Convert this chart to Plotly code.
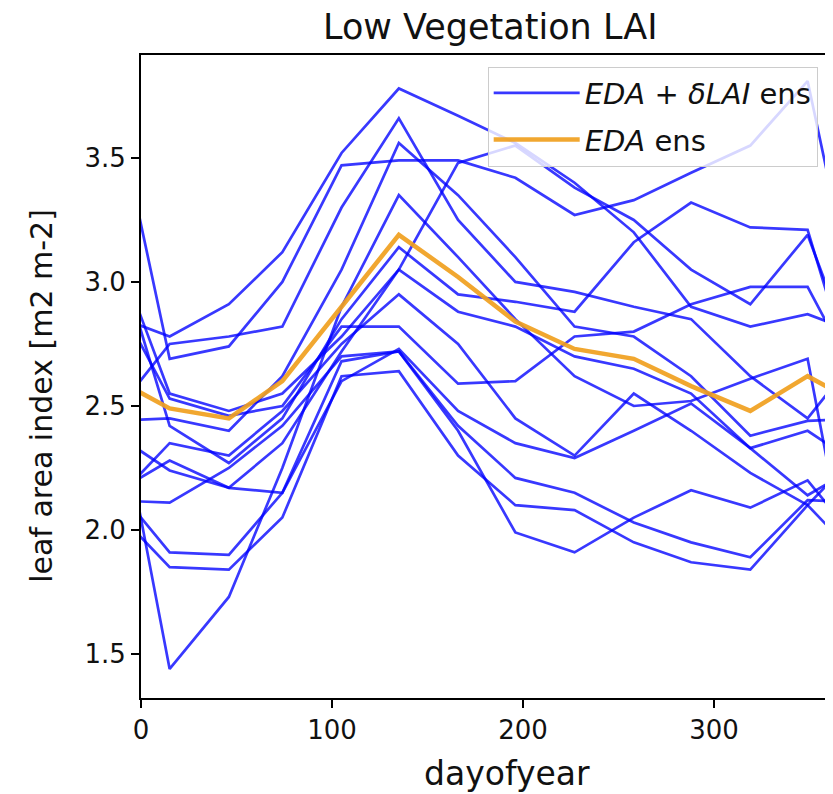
import plotly.graph_objects as go

# monthly mid-point days
days = [15, 46, 74, 105, 135, 166, 196, 227, 258, 288, 319, 349]

# EDA + dLAI ensemble members (Jan..Dec)
m01 = [2.69, 2.74, 3.00, 3.47, 3.49, 3.49, 3.42, 3.27, 3.33, 3.44, 3.55, 3.81]
m02 = [2.78, 2.91, 3.12, 3.52, 3.78, 3.67, 3.56, 3.40, 3.20, 2.90, 2.82, 2.87]
m03 = [2.75, 2.78, 2.82, 3.30, 3.66, 3.25, 3.00, 2.96, 2.90, 2.85, 2.62, 2.45]
m04 = [2.55, 2.48, 2.55, 2.78, 3.05, 3.48, 3.55, 3.38, 3.25, 3.05, 2.91, 3.19]
m05 = [2.45, 2.40, 2.62, 3.05, 3.56, 3.35, 3.10, 2.82, 2.78, 2.62, 2.38, 2.44]
m06 = [2.42, 2.27, 2.45, 2.85, 3.14, 2.95, 2.92, 2.88, 3.16, 3.32, 3.22, 3.21]
m07 = [2.24, 2.17, 2.35, 2.72, 3.05, 2.88, 2.82, 2.70, 2.65, 2.55, 2.33, 2.40]
m08 = [2.35, 2.30, 2.48, 2.75, 2.95, 2.75, 2.45, 2.30, 2.55, 2.40, 2.23, 2.10]
m09 = [2.53, 2.46, 2.50, 2.82, 2.82, 2.59, 2.60, 2.78, 2.80, 2.91, 2.98, 2.98]
m10 = [2.28, 2.17, 2.15, 2.60, 2.73, 2.48, 2.35, 2.29, 2.40, 2.51, 2.33, 2.14]
m11 = [2.11, 2.25, 2.42, 2.70, 2.72, 2.42, 2.21, 2.15, 2.03, 1.95, 1.89, 2.12]
m12 = [1.44, 1.73, 2.25, 2.90, 3.35, 3.10, 2.85, 2.62, 2.50, 2.52, 2.61, 2.69]
m13 = [1.91, 1.90, 2.15, 2.68, 2.72, 2.40, 1.99, 1.91, 2.05, 2.16, 2.09, 2.20]
m14 = [1.85, 1.84, 2.05, 2.62, 2.64, 2.30, 2.10, 2.08, 1.95, 1.87, 1.84, 2.10]
members = [m01, m02, m03, m04, m05, m06, m07, m08, m09, m10, m11, m12, m13, m14]

# EDA ensemble (Jan..Dec)
eda = [2.49, 2.45, 2.60, 2.90, 3.19, 3.02, 2.84, 2.73, 2.69, 2.58, 2.48, 2.62]

# cyclic wrap: previous December and next January
xw = [days[-1] - 365] + days + [days[0] + 365]


def wrap(v):
    return [v[-1]] + v + [v[0]]


fig = go.Figure()
for i, m in enumerate(members):
    fig.add_trace(go.Scatter(
        x=xw, y=wrap(m), mode="lines",
        line=dict(color="rgba(0,0,255,0.78)", width=2.7),
        name="<i>EDA</i> + <i>δLAI</i> ens", legendgroup="dlai",
        showlegend=(i == 0)))
fig.add_trace(go.Scatter(
    x=xw, y=wrap(eda), mode="lines",
    line=dict(color="rgba(240,160,30,0.92)", width=4.5),
    name="<i>EDA</i> ens"))

font = "DejaVu Sans, sans-serif"
fig.update_layout(
    width=825, height=786,
    margin=dict(l=133, r=0, t=47, b=96),
    paper_bgcolor="white", plot_bgcolor="white",
    font=dict(family=font, size=26, color="#111"),
    showlegend=True,
    legend=dict(x=0.501, y=0.982, xanchor="left", yanchor="top",
                bgcolor="rgba(255,255,255,0.8)", bordercolor="#cccccc",
                borderwidth=1, font=dict(size=29), tracegroupgap=6,
                itemwidth=86),
    annotations=[
        dict(text="Low Vegetation LAI", xref="paper", yref="paper",
             x=0.504, y=1.0436, xanchor="center", yanchor="middle",
             showarrow=False, font=dict(size=35)),
        dict(text="dayofyear", xref="paper", yref="paper", x=0.529, y=-0.117,
             xanchor="center", yanchor="middle", showarrow=False,
             font=dict(size=33)),
        dict(text="leaf area index [m2 m-2]", xref="paper", yref="paper",
             x=-0.143, y=0.47, xanchor="center", yanchor="middle",
             textangle=-90, showarrow=False, font=dict(size=30)),
    ],
)
fig.update_xaxes(range=[0, 362.3], tickvals=[0, 100, 200, 300],
                 ticks="outside", ticklen=8, tickwidth=1.5, tickcolor="black",
                 showline=True, linecolor="black", linewidth=1.8, mirror=True,
                 showgrid=False, zeroline=False, tickfont=dict(size=26))
fig.update_yaxes(range=[1.3226, 3.915], tickvals=[1.5, 2.0, 2.5, 3.0, 3.5],
                 ticktext=["1.5", "2.0", "2.5", "3.0", "3.5"],
                 ticks="outside", ticklen=8, tickwidth=1.5, tickcolor="black",
                 showline=True, linecolor="black", linewidth=1.8, mirror=False,
                 showgrid=False, zeroline=False, tickfont=dict(size=26))

fig.write_html("out.html")
